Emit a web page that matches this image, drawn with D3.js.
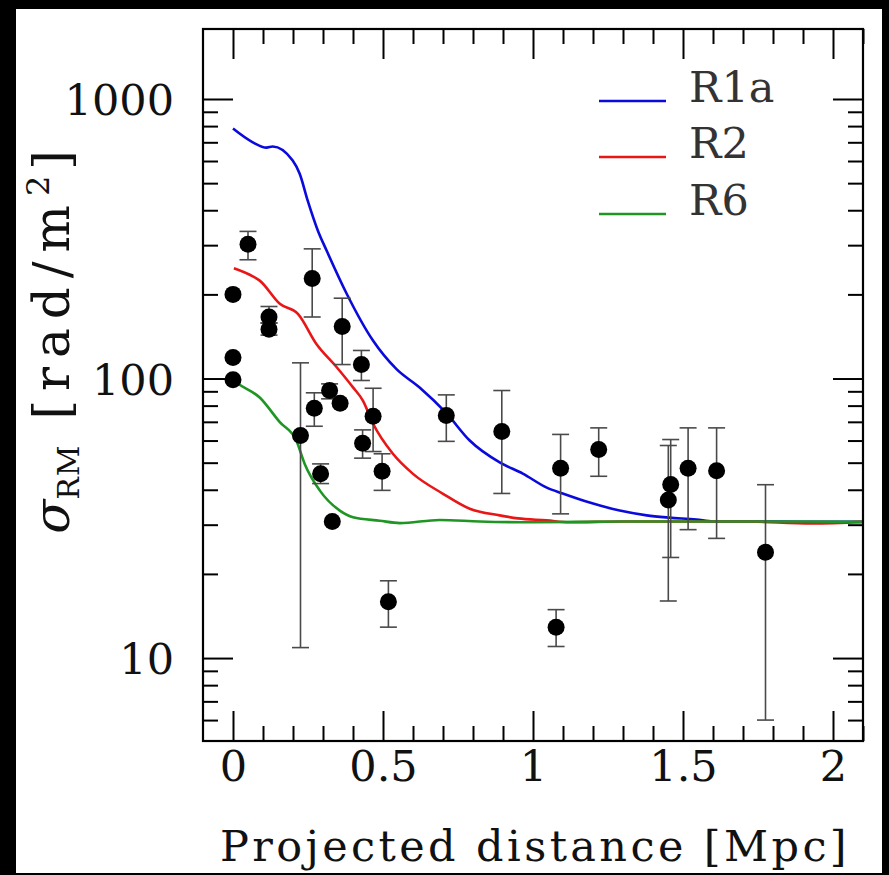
<!DOCTYPE html>
<html><head><meta charset="utf-8">
<script src="https://cdn.jsdelivr.net/npm/d3@7"></script>
<style>body{margin:0;background:#000}svg{display:block}</style>
</head><body>
<svg id="c" width="889" height="875"></svg>
<script>
// ---- data ----
const xTickValues = [0, 0.5, 1, 1.5, 2];
const xTickLabels = ["0", "0.5", "1", "1.5", "2"];
const yTickValues = [10, 100, 1000];
const yTickLabels = ["10", "100", "1000"];

const obsX  = [0, 0, 0, 0.05, 0.12, 0.12, 0.225, 0.264, 0.271, 0.292, 0.322, 0.331, 0.357, 0.364, 0.428, 0.432, 0.467, 0.497, 0.518, 0.711, 0.896, 1.077, 1.092, 1.219, 1.451, 1.459, 1.517, 1.612, 1.775];
const obsY  = [200, 119, 99, 302, 166, 150, 62.5, 228, 78.3, 45.6, 90.6, 30.8, 81.6, 153.4, 112.2, 58.7, 73.3, 46.6, 15.9, 73.7, 64.6, 12.9, 47.8, 55.7, 36.8, 41.8, 47.8, 46.8, 23.9];
const obsLo = [200, 119, 99, 266, 158, 143, 10.9, 166, 67.5, 42.1, 84.6, 30.8, 81.6, 112.2, 98.4, 51.9, 54.8, 39.8, 12.9, 59.6, 38.8, 11.0, 32.8, 44.7, 16.0, 22.9, 28.8, 26.8, 6.0];
const obsHi = [200, 119, 99, 336, 181, 158, 113.8, 291, 88.9, 49.5, 95.7, 30.8, 81.6, 193.8, 126, 65.5, 92.3, 53.8, 18.9, 87.4, 90.6, 14.9, 63.1, 66.6, 57.6, 60.5, 66.6, 66.6, 41.7];

const seriesNames = ["R1a", "R2", "R6"];
const r1aX = [0, 0.066, 0.112, 0.132, 0.199, 0.222, 0.249, 0.283, 0.312, 0.379, 0.466, 0.545, 0.622, 0.712, 0.789, 0.889, 0.966, 1.046, 1.099, 1.189, 1.289, 1.379, 1.455, 1.545, 1.6, 1.8, 2.0, 2.1];
const r1aY = [784, 700, 670, 676, 602, 541, 433, 338, 287, 201, 137, 108, 92.9, 75, 60, 50.1, 45.7, 40.7, 38.8, 36, 33.7, 32.4, 31.8, 31.3, 30.8, 30.8, 30.7, 30.7];
const r2X = [0.003, 0.066, 0.089, 0.156, 0.217, 0.278, 0.345, 0.4, 0.433, 0.467, 0.533, 0.6, 0.7, 0.789, 0.889, 0.95, 1.045, 1.122, 1.3, 1.5, 1.7, 1.93, 2.1];
const r2Y = [248, 232, 224, 185, 170, 133, 110, 93, 83.4, 68.9, 53.8, 45.6, 38.7, 34.2, 32.4, 31.6, 31.1, 30.6, 30.8, 30.8, 30.8, 30.3, 30.7];
const r6X = [0.0, 0.016, 0.089, 0.156, 0.211, 0.239, 0.289, 0.356, 0.4, 0.489, 0.556, 0.689, 0.822, 1.0, 1.3, 1.6, 1.9, 2.1];
const r6Y = [99, 96, 85.5, 69.8, 60, 49.5, 39.8, 33.7, 31.9, 31.0, 30.4, 31.2, 30.8, 30.6, 30.8, 30.8, 30.8, 30.7];
const seriesColors = ["#0a0adc", "#e81616", "#1f9624"];

// ---- layout ----
const L = 203, R = 863, T = 29, B = 741;
const FONT = "'DejaVu Serif', serif";
const svg = d3.select("#c");
svg.append("rect").attr("x", 16).attr("y", 9).attr("width", 866).attr("height", 864).attr("fill", "#fff");

const x = d3.scaleLinear().domain([-0.1, 2.1]).range([L, R]);
const y = d3.scaleLog().domain([5.05, 1780]).range([B, T]);

// minor ticks
const xMinor = d3.range(0, 22).map(i => i / 10).filter(v => !xTickValues.some(t => Math.abs(t - v) < 1e-9));
const yMinor = [];
[1, 10, 100].forEach(d => { for (let k = 2; k <= 9; k++) { const v = d * k; if (v > 5.05 && v < 1780) yMinor.push(v); } });

const fmtX = (d) => xTickLabels[xTickValues.indexOf(d)];
const fmtY = (d) => yTickLabels[yTickValues.indexOf(d)];

function tickAxis(gen, transform) {
  const g = svg.append("g").attr("transform", transform).call(gen);
  g.select(".domain").remove();
  g.selectAll("line").attr("stroke", "#000").attr("stroke-width", 2);
  g.selectAll("text").attr("font-family", FONT).attr("font-size", 43).attr("fill", "#111");
  return g;
}
// bottom (ticks point inward)
const gb = tickAxis(d3.axisTop(x).tickValues(xTickValues).tickSize(30).tickFormat(fmtX), `translate(0,${B})`);
gb.selectAll("text").attr("y", 40).attr("dy", 0);
tickAxis(d3.axisTop(x).tickValues(xMinor).tickSize(15).tickFormat(""), `translate(0,${B})`);
// top
tickAxis(d3.axisBottom(x).tickValues(xTickValues).tickSize(30).tickFormat(""), `translate(0,${T})`);
tickAxis(d3.axisBottom(x).tickValues(xMinor).tickSize(15).tickFormat(""), `translate(0,${T})`);
// left
const gl = tickAxis(d3.axisRight(y).tickValues(yTickValues).tickSize(30).tickFormat(fmtY), `translate(${L},0)`);
gl.selectAll("text").attr("text-anchor", "end").attr("x", -29).attr("dy", "0.36em");
tickAxis(d3.axisRight(y).tickValues(yMinor).tickSize(15).tickFormat(""), `translate(${L},0)`);
// right
tickAxis(d3.axisLeft(y).tickValues(yTickValues).tickSize(30).tickFormat(""), `translate(${R},0)`);
tickAxis(d3.axisLeft(y).tickValues(yMinor).tickSize(15).tickFormat(""), `translate(${R},0)`);

// curves
svg.append("clipPath").attr("id", "pc").append("rect").attr("x", L).attr("y", T).attr("width", R - L).attr("height", B - T);
const line = d3.line().x(d => x(d[0])).y(d => y(d[1])).curve(d3.curveMonotoneX);
const seriesData = [d3.zip(r1aX, r1aY), d3.zip(r2X, r2Y), d3.zip(r6X, r6Y)];
const cg = svg.append("g").attr("clip-path", "url(#pc)");
seriesData.forEach((s, i) => {
  cg.append("path").attr("d", line(s)).attr("fill", "none").attr("stroke", seriesColors[i]).attr("stroke-width", 2.6).attr("stroke-linejoin", "round");
});

// error bars
const pts = obsX.map((v, i) => ({x: v, y: obsY[i], lo: obsLo[i], hi: obsHi[i]}));
const eg = svg.append("g").attr("stroke", "#4a4a4a").attr("stroke-width", 1.6).attr("fill", "none");
pts.filter(p => p.hi > p.lo).forEach(p => {
  const cx = x(p.x);
  eg.append("line").attr("x1", cx).attr("x2", cx).attr("y1", y(p.lo)).attr("y2", y(p.hi));
  eg.append("line").attr("x1", cx - 8.5).attr("x2", cx + 8.5).attr("y1", y(p.lo)).attr("y2", y(p.lo));
  eg.append("line").attr("x1", cx - 8.5).attr("x2", cx + 8.5).attr("y1", y(p.hi)).attr("y2", y(p.hi));
});
svg.append("g").selectAll("circle").data(pts).join("circle")
  .attr("cx", d => x(d.x)).attr("cy", d => y(d.y)).attr("r", 8.5).attr("fill", "#000");

// frame
svg.append("rect").attr("x", L).attr("y", T).attr("width", R - L).attr("height", B - T)
  .attr("fill", "none").attr("stroke", "#000").attr("stroke-width", 2.2);

// legend
const legY = [101, 157, 214];
seriesNames.forEach((n, i) => {
  svg.append("line").attr("x1", 599).attr("x2", 666).attr("y1", legY[i]).attr("y2", legY[i])
    .attr("stroke", seriesColors[i]).attr("stroke-width", 2.6);
  svg.append("text").attr("x", 689).attr("y", legY[i] + 1).text(n)
    .attr("font-family", FONT).attr("font-size", 43).attr("fill", "#333");
});

// axis titles
svg.append("text").attr("x", (L + R) / 2 + 2).attr("y", 861).attr("text-anchor", "middle")
  .attr("font-family", FONT).attr("font-size", 43).attr("letter-spacing", 3.4).attr("fill", "#111")
  .text("Projected distance [Mpc]");
const yt = svg.append("text").attr("transform", "translate(69,342) rotate(-90)").attr("text-anchor", "middle")
  .attr("font-family", FONT).attr("font-size", 50).attr("fill", "#111");
yt.append("tspan").attr("font-style", "italic").text("σ");
yt.append("tspan").attr("font-size", 30).attr("dy", 10).attr("letter-spacing", 1).text("RM");
yt.append("tspan").attr("dy", -10).attr("letter-spacing", 9).text("  [rad/m");
yt.append("tspan").attr("font-size", 32).attr("dy", -20).attr("letter-spacing", 6).text("2");
yt.append("tspan").attr("dy", 20).text("]");
</script>
</body></html>
